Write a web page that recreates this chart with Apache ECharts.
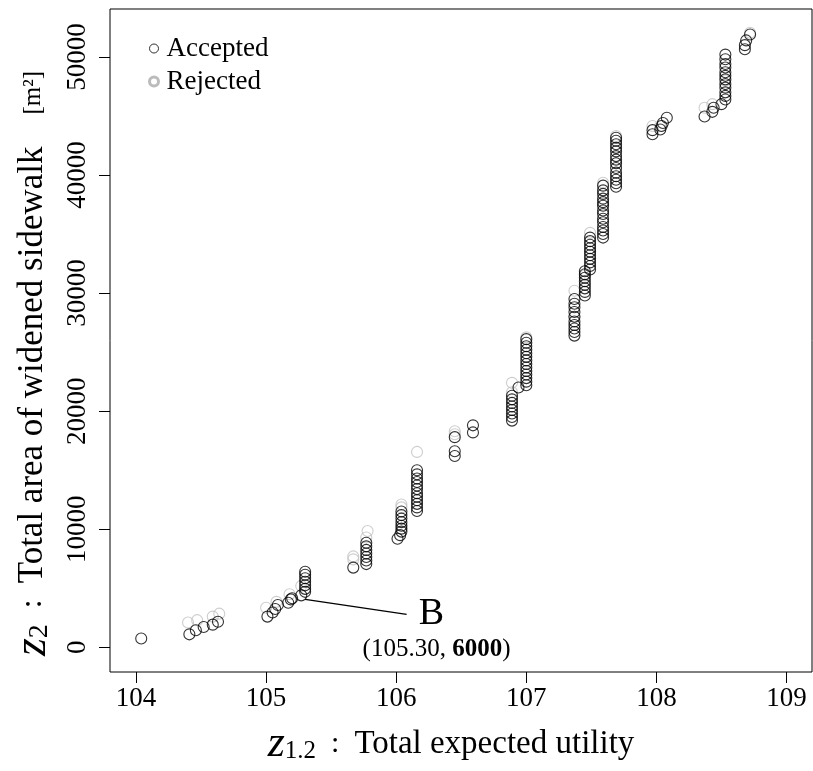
<!DOCTYPE html>
<html>
<head>
<meta charset="utf-8">
<script src="https://cdn.jsdelivr.net/npm/echarts@6/dist/echarts.min.js"></script>
<style>html,body{margin:0;padding:0;background:#fff}#c{width:813px;height:771px}</style>
</head>
<body>
<div id="c"></div>
<script>
var xTicks = [104, 105, 106, 107, 108, 109];
var yTicks = [0, 10000, 20000, 30000, 40000, 50000];

var accepted = [
  [104.04, 750],
  [104.41, 1100], [104.46, 1450], [104.52, 1720], [104.59, 1920], [104.63, 2170],
  [105.01, 2600], [105.05, 2950], [105.07, 3250], [105.09, 3580], [105.17, 3780], [105.19, 4060], [105.20, 4150], [105.27, 4400],
  [105.30, 4700], [105.30, 4950], [105.30, 5250], [105.30, 5550], [105.30, 5850], [105.30, 6150], [105.30, 6400],
  [105.67, 6750],
  [105.77, 7050], [105.77, 7350], [105.77, 7650], [105.77, 7950], [105.77, 8250], [105.77, 8550], [105.77, 8850],
  [106.01, 9200], [106.03, 9500], [106.04, 9800],
  [106.04, 10050], [106.04, 10300], [106.04, 10600], [106.04, 10900], [106.04, 11200], [106.04, 11500],
  [106.16, 11550], [106.16, 11850], [106.16, 12150], [106.16, 12450], [106.16, 12750], [106.16, 13050],
  [106.16, 13400], [106.16, 13700], [106.16, 14000], [106.16, 14300], [106.16, 14650], [106.16, 15000],
  [106.45, 16200], [106.45, 16600], [106.45, 17800],
  [106.59, 18200], [106.59, 18800],
  [106.89, 19200], [106.89, 19500], [106.89, 19800], [106.89, 20100], [106.89, 20400], [106.89, 20700], [106.89, 21000], [106.89, 21300],
  [106.94, 22000],
  [107.00, 22200], [107.00, 22500], [107.00, 22800], [107.00, 23100], [107.00, 23400], [107.00, 23700], [107.00, 24000],
  [107.00, 24300], [107.00, 24600], [107.00, 24900], [107.00, 25200], [107.00, 25500], [107.00, 25800], [107.00, 26100],
  [107.37, 26400], [107.37, 26700], [107.37, 27000], [107.37, 27300], [107.37, 27600], [107.37, 28000], [107.37, 28400],
  [107.37, 28800], [107.37, 29100], [107.37, 29500],
  [107.45, 29800], [107.45, 30100], [107.45, 30400], [107.45, 30700], [107.45, 31000], [107.45, 31300], [107.45, 31600], [107.45, 31850],
  [107.49, 32000], [107.49, 32300], [107.49, 32600], [107.49, 32900], [107.49, 33200], [107.49, 33500], [107.49, 33800],
  [107.49, 34100], [107.49, 34400], [107.49, 34700],
  [107.59, 34700], [107.59, 35000], [107.59, 35300], [107.59, 35600], [107.59, 36000], [107.59, 36300], [107.59, 36700],
  [107.59, 37000], [107.59, 37400], [107.59, 37700], [107.59, 38000], [107.59, 38400], [107.59, 38700], [107.59, 39100],
  [107.69, 39000], [107.69, 39300], [107.69, 39600], [107.69, 39900], [107.69, 40200], [107.69, 40600], [107.69, 41000],
  [107.69, 41300], [107.69, 41600], [107.69, 42000], [107.69, 42300], [107.69, 42600], [107.69, 42900], [107.69, 43150],
  [107.97, 43450], [107.97, 43800], [108.03, 43850], [108.04, 44150], [108.05, 44400], [108.08, 44850],
  [108.37, 44950], [108.43, 45350], [108.44, 45700], [108.50, 46000],
  [108.53, 46400], [108.53, 46700], [108.53, 47000], [108.53, 47400], [108.53, 47700], [108.53, 48100],
  [108.53, 48400], [108.53, 48700], [108.53, 49100], [108.53, 49400], [108.53, 49800], [108.53, 50200],
  [108.68, 50650], [108.68, 51000], [108.69, 51400], [108.72, 51900]
];

var rejected = [
  [104.40, 2100], [104.47, 2300], [104.59, 2600], [104.64, 2850],
  [105.00, 3350], [105.08, 3850], [105.18, 4500], [105.27, 5200],
  [105.67, 7450], [105.67, 7700], [105.77, 9300], [105.78, 9850],
  [106.04, 11850], [106.04, 12100], [106.16, 16550],
  [106.45, 18050], [106.45, 18300],
  [106.89, 21600], [106.89, 22400],
  [107.00, 26250],
  [107.37, 28000], [107.37, 30200],
  [107.45, 31500],
  [107.49, 33500], [107.49, 35100],
  [107.59, 37500], [107.59, 39350],
  [107.69, 41000], [107.69, 43300],
  [107.97, 44150], [108.03, 44150],
  [108.37, 45700], [108.43, 46000],
  [108.53, 48000],
  [108.72, 52050]
];

var annotLine = [[105.30, 4060], [106.08, 2790]];
var annotLabelB = [106.27, 2800];
var annotLabelCoord = [106.31, -150];

var serif = "'Liberation Serif', 'DejaVu Serif', serif";

var chart = echarts.init(document.getElementById('c'), null, {renderer: 'canvas'});
chart.setOption({
  animation: false,
  backgroundColor: '#fff',
  grid: {left: 110, right: 1, top: 9, bottom: 98, show: true, borderColor: '#000', borderWidth: 1, backgroundColor: 'transparent'},
  legend: {
    orient: 'vertical', left: 143, top: 30, itemGap: 6, itemWidth: 9, itemHeight: 9,
    textStyle: {fontFamily: serif, fontSize: 27, color: '#000', padding: [0, 0, 0, 3]},
    data: [
      {name: 'Accepted', icon: 'circle', itemStyle: {color: 'rgba(0,0,0,0)', borderColor: '#000', borderWidth: 1}},
      {name: 'Rejected', icon: 'circle', itemStyle: {color: 'rgba(0,0,0,0)', borderColor: '#aaa', borderWidth: 3}}
    ]
  },
  xAxis: {
    type: 'value', min: 103.8, max: 109.196,
    axisLine: {show: false, onZero: false},
    splitLine: {show: false},
    axisTick: {show: true, length: 11, customValues: xTicks, lineStyle: {color: '#000', width: 1}},
    axisLabel: {customValues: xTicks, fontFamily: serif, fontSize: 27, color: '#000', margin: 13},
    name: '{z|z}{sub|1.2}{c|  :  }{t|Total expected utility}{pad| }',
    nameLocation: 'middle', nameGap: 52,
    nameTextStyle: {
      rich: {
        z: {fontFamily: serif, fontStyle: 'italic', fontSize: 44, lineHeight: 40, color: '#000'},
        sub: {fontFamily: serif, fontSize: 25, lineHeight: 20, verticalAlign: 'bottom', color: '#000'},
        c: {fontFamily: serif, fontSize: 30, lineHeight: 40, color: '#000'},
        t: {fontFamily: serif, fontSize: 33, lineHeight: 40, color: '#000'},
        pad: {fontSize: 10, width: 20, lineHeight: 40}
      }
    }
  },
  yAxis: {
    type: 'value', min: -2090, max: 54060,
    axisLine: {show: false, onZero: false},
    splitLine: {show: false},
    axisTick: {show: true, length: 11, customValues: yTicks, lineStyle: {color: '#000', width: 1}},
    axisLabel: {customValues: yTicks, fontFamily: serif, fontSize: 27, color: '#000', rotate: 90, margin: 19,
      formatter: function (v) { return String(v); }},
    name: '{z|z}{sub|2}{c|  :  }{t|Total area of widened sidewalk}{sp| }{b|[m²]}{pad| }',
    nameLocation: 'middle', nameRotate: 90, nameGap: 56,
    nameTextStyle: {
      rich: {
        z: {fontFamily: serif, fontStyle: 'italic', fontSize: 46, lineHeight: 42, color: '#000'},
        sub: {fontFamily: serif, fontSize: 28, lineHeight: 22, verticalAlign: 'bottom', color: '#000'},
        c: {fontFamily: serif, fontSize: 32, lineHeight: 42, color: '#000'},
        t: {fontFamily: serif, fontSize: 35, lineHeight: 42, color: '#000'},
        sp: {fontSize: 10, width: 32, lineHeight: 42},
        b: {fontFamily: serif, fontSize: 25, lineHeight: 42, color: '#000'},
        pad: {fontSize: 10, width: 46, lineHeight: 42}
      }
    }
  },
  series: [
    {
      name: 'Rejected', type: 'scatter', data: rejected, symbol: 'circle', symbolSize: 11, silent: true,
      itemStyle: {color: 'rgba(0,0,0,0)', borderColor: '#c0c0c0', borderWidth: 1.1}
    },
    {
      name: 'Accepted', type: 'scatter', data: accepted, symbol: 'circle', symbolSize: 11, silent: true,
      itemStyle: {color: 'rgba(0,0,0,0)', borderColor: '#000', borderWidth: 1.1}
    },
    {
      name: 'annotation', type: 'line', data: annotLine, symbol: 'none', silent: true,
      lineStyle: {color: '#000', width: 1.5},
      markPoint: {
        silent: true, symbol: 'circle', symbolSize: 0,
        data: [
          {coord: annotLabelB, label: {show: true, position: 'inside', formatter: 'B', fontFamily: serif, fontSize: 38, color: '#000'}},
          {coord: annotLabelCoord, label: {show: true, position: 'inside', formatter: '(105.30, {b|6000})', fontFamily: serif, fontSize: 25, color: '#000',
            rich: {b: {fontFamily: serif, fontSize: 25, fontWeight: 'bold', color: '#000'}}}}
        ]
      }
    }
  ]
});
</script>
</body>
</html>
